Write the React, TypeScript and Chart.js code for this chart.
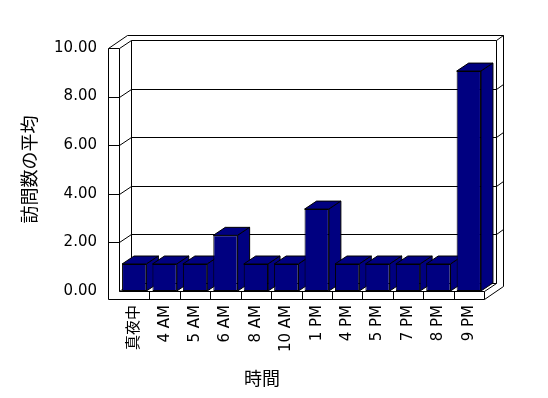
import { useEffect, useRef } from "react";
import { Chart, registerables } from "chart.js";

Chart.register(...registerables);

const categories = ["真夜中", "4 AM", "5 AM", "6 AM", "8 AM", "10 AM", "1 PM", "4 PM", "5 PM", "7 PM", "8 PM", "9 PM"];
const averageVisits = [1.11, 1.11, 1.11, 2.29, 1.11, 1.11, 3.37, 1.11, 1.11, 1.11, 1.11, 9.05];
const yTicks = [0, 2, 4, 6, 8, 10];
const yAxisTitle = "訪問数の平均";
const xAxisTitle = "時間";

const FONT = "'DejaVu Sans', 'Noto Sans CJK JP', sans-serif";
const CJK_FONT = "'Noto Sans CJK JP', 'DejaVu Sans', sans-serif";

const box3d = {
  id: "box3d",
  beforeDatasetsDraw(chart: any) {
    const ctx = chart.ctx as CanvasRenderingContext2D;
    const ys = chart.scales.y;
    const xs = chart.scales.x;
    const { left, right, top, bottom } = chart.chartArea;
    const wallT = 11;
    const floorT = 8;
    const dx = 12, dy = -8;
    const tx = 19, ty = -13;
    const L = left - wallT;
    const s = (v: number) => Math.round(v) + 0.5;
    const line = (x1: number, y1: number, x2: number, y2: number) => {
      ctx.beginPath();
      ctx.moveTo(s(x1), s(y1));
      ctx.lineTo(s(x2), s(y2));
      ctx.stroke();
    };
    ctx.save();
    ctx.strokeStyle = "#000";
    ctx.lineWidth = 1;
    // left wall front face
    line(L, top, L, bottom + floorT);
    line(left, top, left, bottom);
    line(L, top, left, top);
    line(L, top, L + tx, top + ty);
    line(left, top, left + dx, top + dy);
    line(L + tx, top + ty, right + tx, top + ty);
    // back wall front face
    line(left + dx, top + dy, right + dx, top + dy);
    line(left + dx, top + dy, left + dx, bottom + dy);
    line(right + dx, top + dy, right + dx, bottom + dy);
    line(left + dx, bottom + dy, right + dx, bottom + dy);
    line(right + dx, top + dy, right + tx, top + ty);
    line(right + tx, top + ty, right + tx, bottom + floorT + ty);
    // floor
    line(left, bottom, right, bottom);
    line(L, bottom + floorT, right, bottom + floorT);
    line(right, bottom, right, bottom + floorT);
    line(left, bottom, left + dx, bottom + dy);
    line(right, bottom, right + dx, bottom + dy);
    line(right, bottom + floorT, right + tx, bottom + floorT + ty);
    // grid lines
    yTicks.forEach((v) => {
      if (v === yTicks[0] || v === yTicks[yTicks.length - 1]) return;
      const yf = ys.getPixelForValue(v);
      line(L, yf, left, yf);
      line(left, yf, left + dx, yf + dy);
      line(left + dx, yf + dy, right + dx, yf + dy);
      line(right + dx, yf + dy, right + tx, yf + ty);
    });
    // category dividers on floor front face
    for (let i = 1; i < categories.length; i++) {
      const xm = (xs.getPixelForTick(i - 1) + xs.getPixelForTick(i)) / 2;
      line(xm, bottom, xm, bottom + floorT);
    }
    // bar depth faces
    const meta = chart.getDatasetMeta(0);
    ctx.fillStyle = "#000080";
    meta.data.forEach((bar: any) => {
      const { x, y, base, width } = bar.getProps(["x", "y", "base", "width"], true);
      const l = x - width / 2;
      const r = x + width / 2;
      ctx.beginPath();
      ctx.moveTo(l, y);
      ctx.lineTo(l + dx, y + dy);
      ctx.lineTo(r + dx, y + dy);
      ctx.lineTo(r, y);
      ctx.closePath();
      ctx.fill();
      ctx.stroke();
      ctx.beginPath();
      ctx.moveTo(r, y);
      ctx.lineTo(r + dx, y + dy);
      ctx.lineTo(r + dx, base + dy);
      ctx.lineTo(r, base);
      ctx.closePath();
      ctx.fill();
      ctx.stroke();
    });
    ctx.restore();
  },
};

export default function App() {
  const ref = useRef<HTMLCanvasElement | null>(null);
  useEffect(() => {
    document.body.style.margin = "0";
    const canvas = ref.current;
    if (!canvas) return;
    const chart = new Chart(canvas, {
      type: "bar",
      data: {
        labels: categories,
        datasets: [
          {
            data: averageVisits,
            backgroundColor: "#000080",
            borderColor: "#000",
            borderWidth: 1,
            borderSkipped: false,
            barPercentage: 0.8,
            categoryPercentage: 1,
          },
        ],
      },
      options: {
        animation: false,
        responsive: false,
        devicePixelRatio: 1,
        layout: { padding: { top: 48, left: 0, right: 24, bottom: 9 } },
        plugins: {
          legend: { display: false },
          tooltip: { enabled: false },
          title: {
            display: true,
            text: xAxisTitle,
            position: "bottom",
            color: "#000",
            padding: 0,
            font: { family: CJK_FONT, size: 18, weight: "normal", lineHeight: "22px" },
          },
        },
        scales: {
          x: {
            type: "category",
            grid: { display: false, drawTicks: false },
            border: { display: false },
            ticks: {
              autoSkip: false,
              minRotation: 90,
              maxRotation: 90,
              padding: 14,
              color: "#000",
              font: { family: FONT, size: 15 },
            },
            afterFit: (sc: any) => {
              sc.height = 76;
            },
          },
          y: {
            min: 0,
            max: 10,
            grid: { display: false, drawTicks: false },
            border: { display: false },
            afterBuildTicks: (sc: any) => {
              sc.ticks = yTicks.map((v) => ({ value: v }));
            },
            ticks: {
              padding: 22,
              color: "#000",
              font: { family: FONT, size: 15 },
              callback: (v: any) => Number(v).toFixed(2),
            },
            title: {
              display: true,
              text: yAxisTitle,
              color: "#000",
              padding: { top: 18, bottom: 0 },
              font: { family: CJK_FONT, size: 18, weight: "normal", lineHeight: "22px" },
            },
            afterFit: (sc: any) => {
              sc.width = 119;
            },
          },
          y2: {
            position: "right",
            display: true,
            grid: { display: false, drawTicks: false },
            border: { display: false },
            ticks: { display: false },
            afterFit: (sc: any) => {
              sc.width = 40;
            },
          },
        },
      },
      plugins: [box3d],
    } as any);
    return () => chart.destroy();
  }, []);
  return (
    <div style={{ width: 548, height: 398 }}>
      <canvas ref={ref} width={548} height={398} style={{ display: "block" }} />
    </div>
  );
}
